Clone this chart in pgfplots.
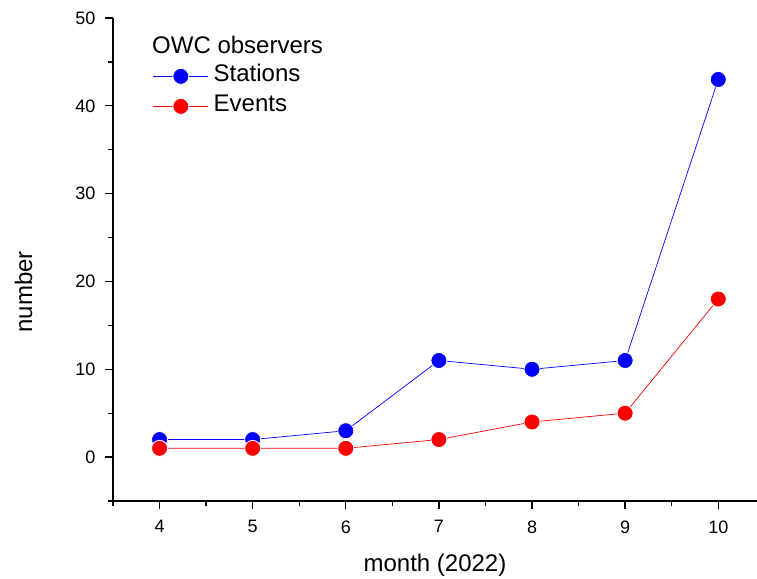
\documentclass[border=0pt]{standalone}
\usepackage{fontspec}
\setmainfont{Liberation Sans}
\usepackage{pgfplots}
\pgfplotsset{compat=1.18}
\begin{document}
\begin{tikzpicture}
\path[use as bounding box] (-113pt,-77pt) rectangle (644pt,501pt);
\begin{axis}[
  scale only axis,
  width=644pt, height=483pt,
  xmin=3.5, xmax=10.416,
  ymin=-5, ymax=50,
  axis lines*=left,
  axis line style={line width=1.3pt, -},
  xtick={4,5,6,7,8,9,10},
  ytick={0,10,20,30,40,50},
  minor xtick={3.5,4.5,5.5,6.5,7.5,8.5,9.5},
  minor ytick={-5,5,15,25,35,45},
  tick align=outside,
  major tick length=8pt,
  minor tick length=5pt,
  every tick/.style={black, line width=1.3pt},
  xticklabel={\pgfmathprintnumber{\tick}},
  yticklabel={\pgfmathprintnumber{\tick}},
  /pgf/number format/assume math mode=true,
  tick label style={font=\fontsize{18}{21}\selectfont},
  xticklabel style={yshift=-8pt},
  yticklabel style={xshift=-6pt},
  label style={font=\fontsize{24}{28}\selectfont},
  xlabel={month (2022)},
  ylabel={number},
  xlabel style={at={(axis description cs:0.5,-0.1325)}, anchor=center},
  ylabel style={at={(axis description cs:-0.1390,0.433)}, anchor=center},
  clip=false,
  legend image code/.code={\draw[mark repeat=2,mark phase=2,#1] plot coordinates {(0pt,0pt) (27.5pt,0pt) (55pt,0pt)};},
  legend style={draw=none, fill=none, inner sep=0pt, outer sep=0pt,
    at={(rel axis cs:0.0621,0.903)}, anchor=north west,
    font=\fontsize{24}{28}\selectfont, row sep=7pt,
    nodes={inner sep=0pt, text height=17pt, text depth=6pt},
    /tikz/column sep=5pt},
  legend cell align=left,
]
\addplot[color=blue, line width=0.7pt, mark=*, mark size=8pt, mark options={fill=blue, draw=white, line width=0.8pt}]
  coordinates {(4,2) (5,2) (6,3) (7,11) (8,10) (9,11) (10,43)};
\addlegendentry{Stations}
\addplot[color=red, line width=0.7pt, mark=*, mark size=8pt, mark options={fill=red, draw=white, line width=0.8pt}]
  coordinates {(4,1) (5,1) (6,1) (7,2) (8,4) (9,5) (10,18)};
\addlegendentry{Events}
\node[anchor=west, font=\fontsize{24}{28}\selectfont, inner sep=0pt] at (rel axis cs:0.0606,0.944) {OWC observers};
\end{axis}
\end{tikzpicture}
\end{document}
